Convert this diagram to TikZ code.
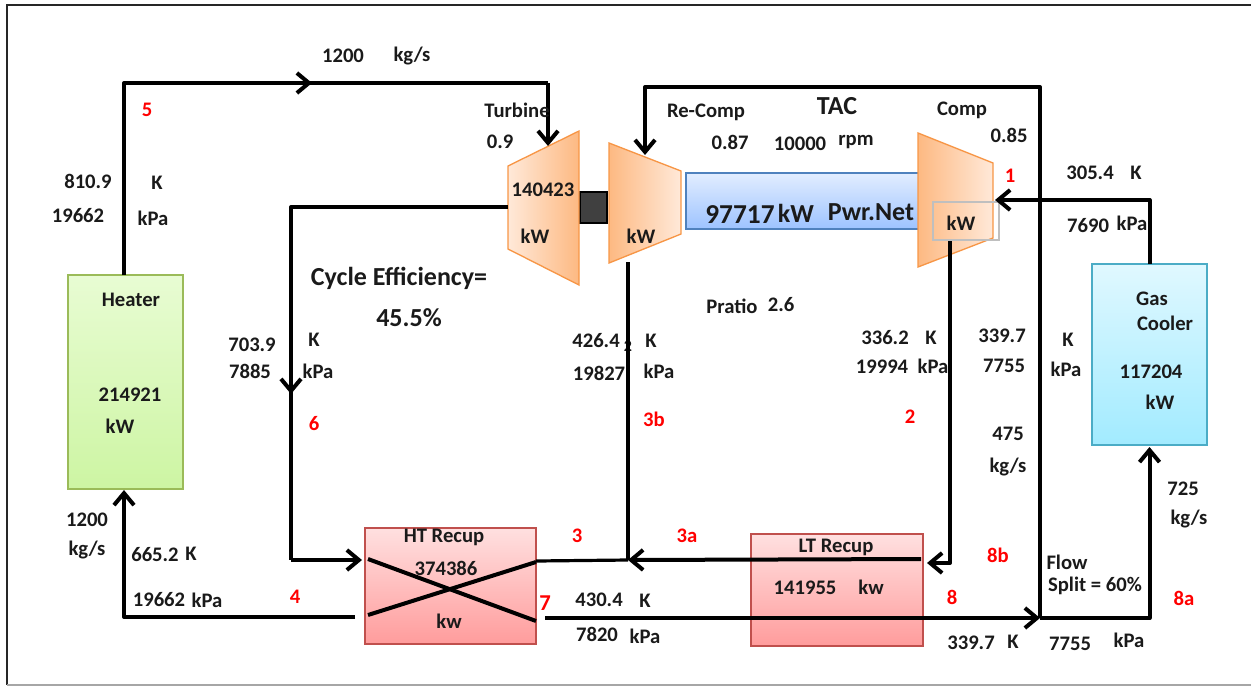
\documentclass[tikz,border=0pt]{standalone}
\usepackage{fontspec}
\setmainfont{Carlito}
\usetikzlibrary{arrows.meta}
\def\px{0.75pt}
\definecolor{txt}{HTML}{1A1A1A}
\tikzset{
  lbl/.style={font=\bfseries\fontsize{15.5}{18}\selectfont,text=txt,inner sep=0pt,anchor=center},
  big/.style={lbl,font=\bfseries\fontsize{19.5}{22}\selectfont},
  huge/.style={lbl,font=\bfseries\fontsize{20.5}{24}\selectfont},
  redl/.style={lbl,text=red},
  boxn/.style={inner sep=0pt,outer sep=0pt,line width=1pt},
  heaterbox/.style={boxn,draw=heaterline,top color=heatertop,bottom color=heaterbot},
  coolerbox/.style={boxn,draw=coolerline,top color=coolertop,bottom color=coolerbot},
  recupbox/.style={boxn,draw=recupline,top color=recuptop,bottom color=recupbot,line width=1.2pt},
  netbox/.style={boxn,draw=netline,top color=nettop,bottom color=netbot},
  pipe/.style={line width=3pt,black,line join=round},
  thinpipe/.style={line width=2.4pt,black,line join=round},
  barb/.style={-{Straight Barb[length=9pt,width=15pt,line width=3pt]}},
  machine/.style={draw=machline,line width=1pt,line join=miter},
}
\definecolor{heaterline}{HTML}{9BBB59}
\definecolor{heatertop}{HTML}{E8FCD3}
\definecolor{heaterbot}{HTML}{CDF5A3}
\definecolor{coolerline}{HTML}{4BACC6}
\definecolor{coolertop}{HTML}{E0F8FF}
\definecolor{coolerbot}{HTML}{A2EBFF}
\definecolor{recupline}{HTML}{C0504D}
\definecolor{recuptop}{HTML}{FFE0E0}
\definecolor{recupbot}{HTML}{FF9C9C}
\definecolor{netline}{HTML}{4F81BD}
\definecolor{nettop}{HTML}{E2EDFF}
\definecolor{netbot}{HTML}{9DC3FF}
\definecolor{machline}{HTML}{F79646}
\definecolor{machdark}{HTML}{FDB982}
\definecolor{machlight}{HTML}{FFE9D9}
\begin{document}
\begin{tikzpicture}[x=0.75pt,y=-0.75pt]
\useasboundingbox (0,0) rectangle (1251,686);
% frame
\coordinate (fTR) at (1251,5);
\coordinate (fTL) at (7,5);
\coordinate (fBL) at (7,685);
\coordinate (fBR) at (1251,685);
\draw[black!85,line width=1.2pt] (fTR) -- (fTL) -- (fBL);
\draw[black!35,line width=1pt] (fBL) -- (fBR);
% equipment boxes
\node[heaterbox,minimum width=115*\px,minimum height=214*\px] (heater) at (125.5,382) {};
\node[coolerbox,minimum width=115*\px,minimum height=181*\px] (cooler) at (1149.5,354.5) {};
\node[recupbox,minimum width=171*\px,minimum height=116*\px] (ht) at (450.5,586) {};
\node[recupbox,minimum width=172*\px,minimum height=112*\px] (lt) at (837,590) {};
\node[netbox,minimum width=234*\px,minimum height=56*\px] (net) at (803,201) {};
\node[boxn,draw=black,fill=black!75,minimum width=27*\px,minimum height=31*\px] (shaft) at (593.5,207.5) {};
% machines
\path[machine,left color=machlight,right color=machdark] (508,166) -- (579,131) -- (579,285) -- (508,249) -- cycle;
\path[machine,left color=machdark,right color=machlight] (609,143) -- (681,171) -- (681,234) -- (609,263) -- cycle;
\path[machine,left color=machdark,right color=machlight] (918,133) -- (993,163) -- (993,238) -- (918,267) -- cycle;
\node[boxn,draw=black!25,line width=1pt,minimum width=66*\px,minimum height=38*\px] (compkw) at (966,221) {};
% junction coordinates
\coordinate (tIn) at (548,146);
\coordinate (tOut) at (508,207);
\coordinate (hOut) at (124,275);
\coordinate (a) at (124,83);
\coordinate (aMid) at (312,83);
\coordinate (b) at (548,83);
\coordinate (c) at (291,207);
\coordinate (cMid) at (291,394);
\coordinate (d) at (291,560);
\coordinate (htHotIn) at (362,560);
\coordinate (rcIn) at (645,155);
\coordinate (e) at (645,87);
\coordinate (f) at (1040,87);
\coordinate (split) at (1040,618);
\coordinate (rcOut) at (628,262);
\coordinate (merge) at (628,560);
\coordinate (htOut3) at (536,561);
\coordinate (cpOut) at (950,241);
\coordinate (g) at (950,563);
\coordinate (ltIn) at (927,563);
\coordinate (ltHotL) at (921,559);
\coordinate (h7) at (545,618);
\coordinate (i) at (1149.5,618);
\coordinate (coolerIn) at (1149.5,447);
\coordinate (j) at (1149.5,200);
\coordinate (cpIn) at (995,200);
\coordinate (k) at (355,617);
\coordinate (l) at (124,617);
\coordinate (heaterIn) at (124,490);
\coordinate (x1) at (368,559);
\coordinate (x2) at (536,621);
\coordinate (x3) at (368,615);
\coordinate (x4) at (536,562);
% small label under the re-compressor line
\node[lbl,font=\bfseries\fontsize{12}{14}\selectfont] (t2small) at (628,346) {2};
% pipes
\draw[pipe] (hOut) -- (a) -- (b);
\draw[pipe,barb] (a) -- (aMid);
\draw[pipe,barb] (b) -- (tIn);
\draw[pipe] (tOut) -- (c) -- (d);
\draw[pipe,barb] (c) -- (cMid);
\draw[pipe,barb] (d) -- (htHotIn);
\draw[pipe,barb] (split) -- (f) -- (e) -- (rcIn);
\draw[pipe] (rcOut) -- (merge);
\draw[thinpipe] (htOut3) -- (merge);
\draw[pipe,barb] (ltHotL) -- (merge);
\draw[pipe,barb] (cpOut) -- (g) -- (ltIn);
\draw[pipe,barb] (h7) -- (split);
\draw[pipe,barb] (split) -- (i) -- (coolerIn);
\draw[pipe,barb] (cooler.north) -- (j) -- (cpIn);
\draw[pipe,barb] (k) -- (l) -- (heaterIn);
\draw[pipe] (x1) -- (x2);
\draw[pipe] (x3) -- (x4);
% labels
\node[lbl] (t1) at (343,56) {1200};
\node[lbl] (t2) at (412,56) {kg/s};
\node[redl] (r5) at (147,110) {5};
\node[lbl] (t3) at (517,110) {Turbine};
\node[lbl] (t4) at (500,142) {0.9};
\node[lbl] (t5) at (706,112) {Re-Comp};
\node[big] (t6) at (837,106) {TAC};
\node[lbl] (t7) at (962,110) {Comp};
\node[lbl] (t8) at (730,142) {0.87};
\node[lbl] (t9) at (800,144) {10000};
\node[lbl] (t10) at (856,142) {rpm};
\node[lbl] (t11) at (1009,135) {0.85};
\node[redl] (r1) at (1010,176) {1};
\node[lbl] (t12) at (1090,173) {305.4};
\node[lbl] (t13) at (1136,173) {K};
\node[lbl] (t14) at (1088,226) {7690};
\node[lbl] (t15) at (1132,223) {kPa};
\node[lbl] (t16) at (88,181) {810.9};
\node[lbl] (t17) at (157,183) {K};
\node[lbl] (t18) at (78,216) {19662};
\node[lbl] (t19) at (153,218) {kPa};
\node[lbl] (t20) at (131,300) {Heater};
\node[lbl] (t21) at (130,395) {214921};
\node[lbl] (t22) at (120,426) {kW};
\node[lbl] (t23) at (543,190) {140423};
\node[lbl] (t24) at (535,236) {kW};
\node[lbl] (t25) at (641,236) {kW};
\node[huge] (t26) at (740,215) {97717};
\node[big] (t27) at (796,213) {kW};
\node[big] (t28) at (871,212) {Pwr.Net};
\node[lbl] (t29) at (961,223) {kW};
\node[big] (t30) at (399,278) {Cycle Efficiency=};
\node[big] (t31) at (409,318) {45.5\%};
\node[lbl] (t32) at (732,306) {Pratio};
\node[lbl] (t33) at (781,305) {2.6};
\node[lbl] (t34) at (252,345) {703.9};
\node[lbl] (t35) at (314,340) {K};
\node[lbl] (t36) at (250,371) {7885};
\node[lbl] (t37) at (318,371) {kPa};
\node[lbl] (t38) at (596,341) {426.4};
\node[lbl] (t39) at (651,341) {K};
\node[lbl] (t40) at (599,373) {19827};
\node[lbl] (t41) at (659,371) {kPa};
\node[lbl] (t42) at (885,338) {336.2};
\node[lbl] (t43) at (931,338) {K};
\node[lbl] (t44) at (882,367) {19994};
\node[lbl] (t45) at (933,366) {kPa};
\node[lbl] (t46) at (1002,336) {339.7};
\node[lbl] (t47) at (1068,340) {K};
\node[lbl] (t48) at (1004,366) {7755};
\node[lbl] (t49) at (1066,369) {kPa};
\node[lbl] (t50) at (1152,299) {Gas};
\node[lbl] (t51) at (1165,323) {Cooler};
\node[lbl] (t52) at (1151,372) {117204};
\node[lbl] (t53) at (1160,402) {kW};
\node[redl] (r6) at (314,424) {6};
\node[redl] (r3b) at (654,419) {3b};
\node[redl] (r2) at (910,417) {2};
\node[lbl] (t54) at (1008,434) {475};
\node[lbl] (t55) at (1008,467) {kg/s};
\node[lbl] (t56) at (1183,489) {725};
\node[lbl] (t57) at (1189,519) {kg/s};
\node[lbl] (t58) at (87,520) {1200};
\node[lbl] (t59) at (87,550) {kg/s};
\node[lbl] (t60) at (155,555) {665.2};
\node[lbl] (t61) at (191,554) {K};
\node[lbl] (t62) at (159,600) {19662};
\node[lbl] (t63) at (207,600) {kPa};
\node[redl] (r4) at (295,597) {4};
\node[lbl] (t64) at (444,537) {HT Recup};
\node[lbl] (t65) at (446,568) {374386};
\node[lbl] (t66) at (449,621) {kw};
\node[redl] (r3) at (577,536) {3};
\node[redl] (r3a) at (687,536) {3a};
\node[lbl] (t67) at (836,547) {LT Recup};
\node[lbl] (t68) at (805,588) {141955};
\node[lbl] (t69) at (871,587) {kw};
\node[redl] (r8b) at (998,555) {8b};
\node[redl] (r8) at (952,597) {8};
\node[redl,font=\bfseries\fontsize{17}{20}\selectfont] (r7) at (545,603) {7};
\node[lbl] (t70) at (599,600) {430.4};
\node[lbl] (t71) at (645,601) {K};
\node[lbl] (t72) at (597,634) {7820};
\node[lbl] (t73) at (645,636) {kPa};
\node[lbl] (t74) at (1067,562) {Flow};
\node[lbl] (t75) at (1095,586) {Split = 60\%};
\node[redl] (r8a) at (1184,598) {8a};
\node[lbl] (t76) at (971,643) {339.7};
\node[lbl] (t77) at (1013,642) {K};
\node[lbl] (t78) at (1070,644) {7755};
\node[lbl] (t79) at (1129,640) {kPa};
\end{tikzpicture}
\end{document}
